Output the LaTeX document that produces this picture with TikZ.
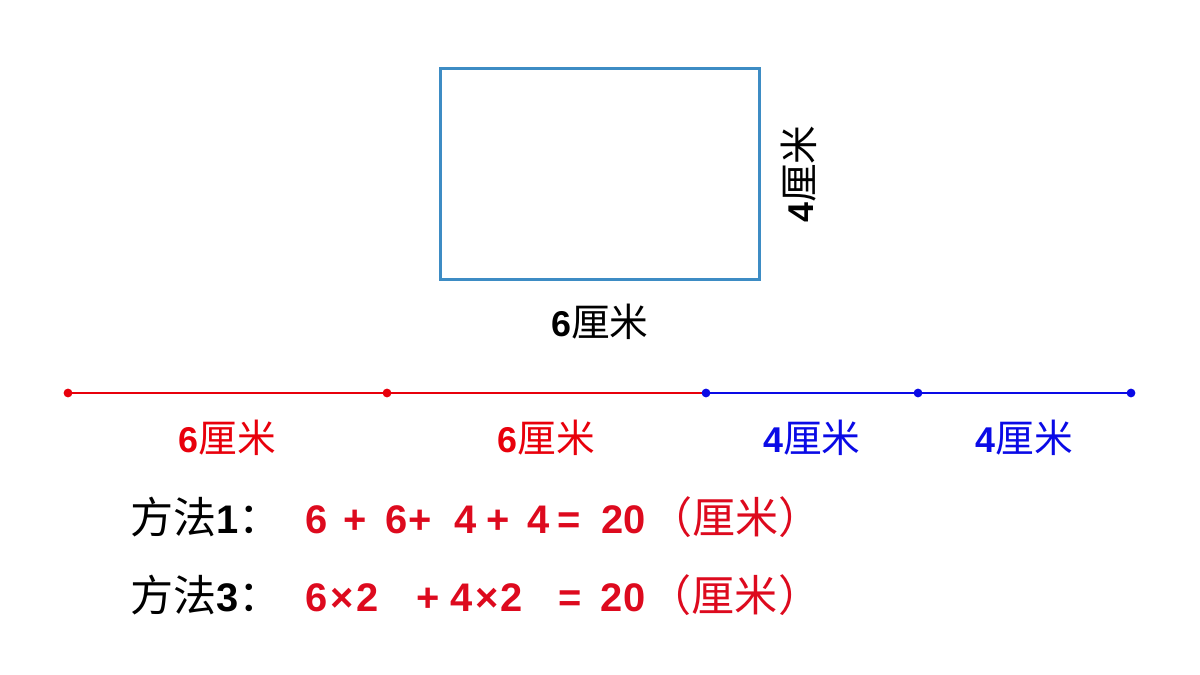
\documentclass[tikz,border=0pt]{standalone}
\usepackage{fontspec}
\setmainfont{Liberation Sans}
\newfontfamily\cjk{Noto Sans CJK SC}[Scale=1.08]
\usetikzlibrary{positioning}
\definecolor{rectblue}{HTML}{3D8CC4}
\definecolor{segred}{HTML}{E8000B}
\definecolor{segblue}{HTML}{0A0AE6}
\definecolor{eqred}{HTML}{DD0A1E}
\newcommand{\limi}{{\cjk 厘米}}

\begin{document}
\begin{tikzpicture}
[
    x=0.02cm, y=-0.02cm,
    lbl/.style={font=\fontsize{20.4}{24}\selectfont, inner sep=0pt},
    eq/.style={font=\fontsize{22.7}{27}\selectfont, inner sep=0pt, anchor=west},
    seg/.style={line width=1.6pt},
]
\useasboundingbox (0,0) rectangle (1200,675);
% the rectangle and its sides
\node [draw=rectblue, line width=1.7pt, minimum width=6.4cm, minimum height=4.24cm, inner sep=0pt]
    (rect) at (600,174) {};
\node [lbl, below=0.44cm of rect] (width) {\textbf{6}\limi};
\node [lbl, right=0.38cm of rect, anchor=north, rotate=90] (height) {\textbf{4}\limi};
% the four sides laid out in a row
\coordinate (a0) at (68,393);
\coordinate (a1) at (387,393);
\coordinate (a2) at (706,393);
\coordinate (a3) at (918,393);
\coordinate (a4) at (1131,393);
\draw [seg, segred] (a0) -- (a1) node [lbl, midway, below=0.52cm] (s1) {\textbf{6}\limi};
\draw [seg, segred] (a1) -- (a2) node [lbl, midway, below=0.52cm] (s2) {\textbf{6}\limi};
\draw [seg, segblue] (a2) -- (a3) node [lbl, midway, below=0.52cm] (s3) {\textbf{4}\limi};
\draw [seg, segblue] (a3) -- (a4) node [lbl, midway, below=0.52cm] (s4) {\textbf{4}\limi};
\foreach \p in {a0,a1} \fill [segred] (\p) circle (2.5pt);
\foreach \p in {a2,a3,a4} \fill [segblue] (\p) circle (2.5pt);
% the two ways
\node [eq] (m1) at (130,517) {{\cjk 方法}\textbf{1}{\cjk ：}};
\node [eq, text=eqred] (e1) at (305,517)
    {\textbf{6\hspace{9pt}+\hspace{11pt}6+\hspace{13pt}4\hspace{5.7pt}+\hspace{10pt}4\hspace{4.5pt}=\hspace{12pt}20}\hspace{2pt}{\cjk （厘米）}};
\node [eq] (m3) at (130,595) {{\cjk 方法}\textbf{3}{\cjk ：}};
\node [eq, text=eqred] (e3) at (305,595)
    {\textbf{6\hspace{1.5pt}×\hspace{1.5pt}2\hspace{22pt}+\hspace{5.7pt}4\hspace{1.5pt}×\hspace{1.5pt}2\hspace{20pt}=\hspace{11pt}20}\hspace{2pt}{\cjk （厘米）}};
\end{tikzpicture}
\end{document}
